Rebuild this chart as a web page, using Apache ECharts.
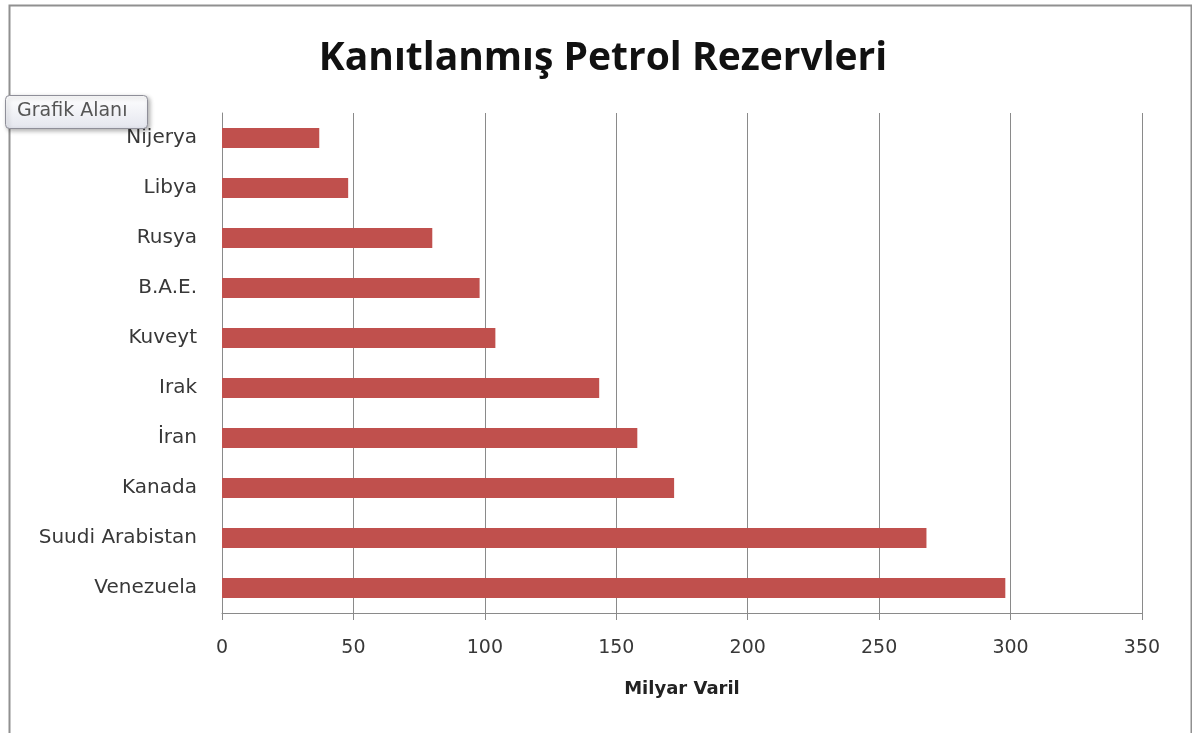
<!DOCTYPE html>
<html>
<head>
<meta charset="utf-8">
<script src="https://cdn.jsdelivr.net/npm/echarts@6/dist/echarts.min.js"></script>
<style>
html,body{margin:0;padding:0;background:#fff;}
#chart{width:1192px;height:733px;}
</style>
</head>
<body>
<div id="chart"></div>
<script>
const categories = ['Venezuela', 'Suudi Arabistan', 'Kanada', 'İran', 'Irak', 'Kuveyt', 'B.A.E.', 'Rusya', 'Libya', 'Nijerya'];
const reserves = [298, 268, 172, 158, 143.5, 104, 98, 80, 48, 37];
const titleText = 'Kanıtlanmış Petrol Rezervleri';
const axisName = 'Milyar Varil';
const tooltipLabel = 'Grafik Alanı';

const chart = echarts.init(document.getElementById('chart'));
const font = '"DejaVu Sans", sans-serif';
chart.setOption({
  animation: false,
  backgroundColor: '#fff',
  title: {
    text: titleText,
    left: 598,
    textAlign: 'center',
    top: 34,
    textStyle: { fontFamily: '"Open Sans", sans-serif', fontSize: 39, fontWeight: 'bold', color: '#111' }
  },
  grid: { left: 222, right: 50, top: 113, bottom: 120, containLabel: false },
  xAxis: {
    type: 'value', min: 0, max: 350, interval: 50,
    axisLine: { show: true, lineStyle: { color: '#8a8a8a', width: 1 } },
    axisTick: { show: true, length: 7, lineStyle: { color: '#8a8a8a' } },
    splitLine: { show: true, lineStyle: { color: '#8a8a8a', width: 1 } },
    axisLabel: { margin: 26, fontFamily: font, fontSize: 19, color: '#383838' },
    name: axisName, nameLocation: 'middle', nameGap: 67,
    nameTextStyle: { fontFamily: font, fontSize: 18, fontWeight: 'bold', color: '#222' }
  },
  yAxis: {
    type: 'category', data: categories,
    axisLine: { show: true, lineStyle: { color: '#8a8a8a', width: 1 } },
    axisTick: { show: false },
    splitLine: { show: false },
    axisLabel: { margin: 25, fontFamily: font, fontSize: 20, color: '#383838' }
  },
  series: [{
    type: 'bar', data: reserves, barWidth: 20,
    itemStyle: { color: '#C0504D' }
  }],
  graphic: [
    { type: 'rect', left: 7, top: 3, shape: { width: 1182, height: 760 },
      style: { fill: 'none', stroke: '#909090', lineWidth: 2 }, silent: true, z: 100 },
    { type: 'rect', left: 5, top: 95, shape: { width: 142, height: 33, r: 4 },
      style: { fill: new echarts.graphic.LinearGradient(0,0,0,1,[{offset:0,color:'#ffffff'},{offset:1,color:'#e4e6ee'}]),
               stroke: '#8f8f99', lineWidth: 1, shadowBlur: 4, shadowColor: 'rgba(0,0,0,0.3)', shadowOffsetX: 2, shadowOffsetY: 2 },
      z: 101 },
    { type: 'text', left: 17, top: 102, z: 102,
      style: { text: tooltipLabel, font: '19px "DejaVu Sans", sans-serif', fill: '#555' } }
  ]
});
</script>
</body>
</html>
